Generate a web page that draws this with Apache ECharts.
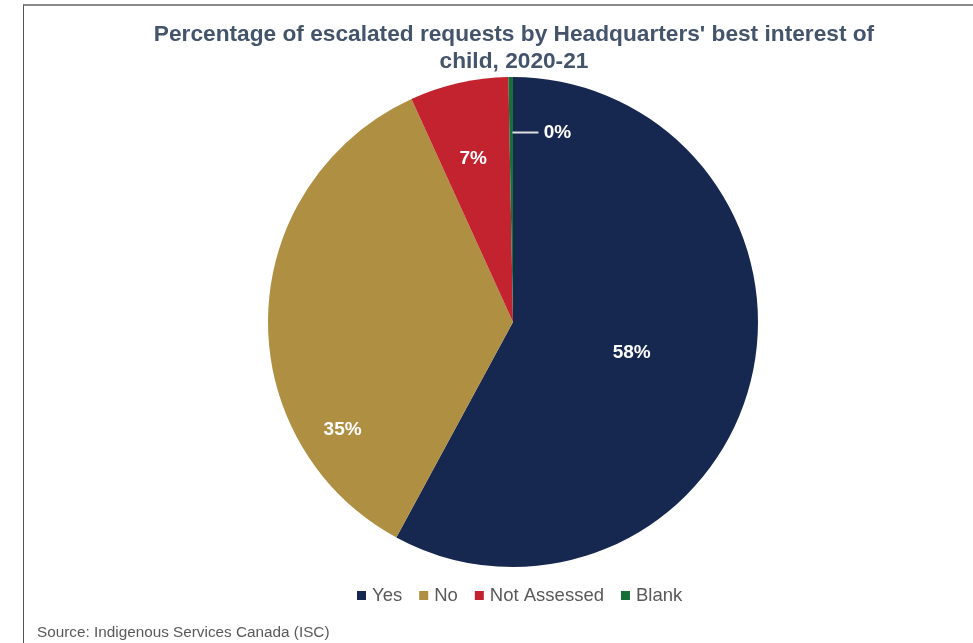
<!DOCTYPE html>
<html>
<head>
<meta charset="utf-8">
<script src="https://cdn.jsdelivr.net/npm/echarts@6/dist/echarts.min.js"></script>
<style>
  html, body { margin: 0; padding: 0; background: #fff; }
  #frame { position: absolute; left: 0; top: 0; width: 973px; height: 643px; }
  #edge { position: absolute; left: 23px; top: 4px; right: 0; bottom: 0;
          border-top: 2px solid #8a8a8a; border-left: 1px solid #555; }
  #chart { position: absolute; left: 0; top: 0; width: 973px; height: 643px; }
</style>
</head>
<body>
<div id="frame">
  <div id="edge"></div>
  <div id="chart"></div>
</div>
<script>
// Headquarters' best-interest-of-child assessment, share of escalated requests (%)
const categories = ['Yes', 'No', 'Not Assessed', 'Blank'];
const shares = [57.9, 35.3, 6.5, 0.3];
const colors = ['#172850', '#AF8F42', '#C3222F', '#17703A'];

// nudges for the in-slice labels, by slice
const labelNudge = [[-3, 0], [-45, 112], [-12, -41], [30, -64]];

const chart = echarts.init(document.getElementById('chart'), null, { renderer: 'canvas' });

chart.setOption({
  animation: false,
  backgroundColor: 'transparent',
  title: {
    text: "Percentage of escalated requests by Headquarters' best interest of\nchild, 2020-21",
    left: 509,
    top: 16,
    textAlign: 'center',
    textStyle: {
      fontFamily: 'Liberation Sans, Arial, sans-serif',
      fontSize: 22.7,
      fontWeight: 'bold',
      color: '#44546A',
      lineHeight: 27
    }
  },
  legend: {
    top: 581,
    left: 352,
    itemWidth: 9,
    itemHeight: 9,
    itemGap: 17,
    icon: 'rect',
    textStyle: {
      fontFamily: 'Liberation Sans, Arial, sans-serif',
      fontSize: 18.5,
      color: '#595959',
      padding: [0, 0, 0, 1]
    },
    data: categories
  },
  graphic: [{
    type: 'text',
    left: 37,
    top: 625,
    style: {
      text: 'Source: Indigenous Services Canada (ISC)',
      font: '15.3px Liberation Sans, Arial, sans-serif',
      fill: '#595959'
    }
  }],
  series: [{
    type: 'pie',
    center: [513, 322],
    radius: [0, 245],
    startAngle: 90,
    clockwise: true,
    avoidLabelOverlap: false,
    percentPrecision: 0,
    itemStyle: { borderWidth: 0 },
    label: {
      show: true,
      position: 'inside',
      color: '#ffffff',
      fontFamily: 'Liberation Sans, Arial, sans-serif',
      fontWeight: 'bold',
      fontSize: 19,
      formatter: p => Math.round(p.value) + '%'
    },
    labelLayout: p => ({ dx: labelNudge[p.dataIndex][0], dy: labelNudge[p.dataIndex][1] }),
    data: categories.map((name, i) => {
      const item = { name, value: shares[i], itemStyle: { color: colors[i] } };
      if (name === 'Blank') {
        item.label = {
          formatter: p => '{tick|}' + ' ' + Math.round(p.value) + '%',
          rich: { tick: { width: 26, height: 2, backgroundColor: '#e0e0e0' } }
        };
      }
      return item;
    })
  }]
});
</script>
</body>
</html>
